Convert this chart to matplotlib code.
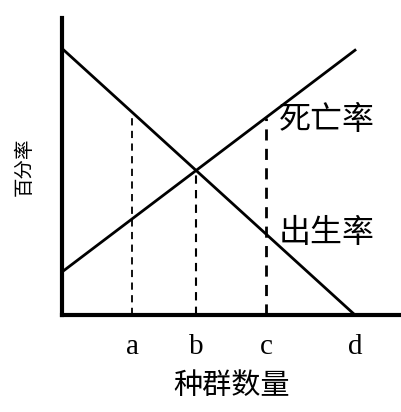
import numpy as np
import matplotlib
matplotlib.use('Agg')
import matplotlib.pyplot as plt

plt.rcParams['font.family'] = ['Noto Sans CJK SC', 'DejaVu Sans']

# population size axis (arbitrary units), lines
line_x = [0, 10]
birth_rate = [9.1, 0.0]   # falls to zero at d
death_rate = [1.47, 9.04]  # rises with population size

tick_labels = ['a', 'b', 'c', 'd']
tick_pos = [2.4, 4.58, 6.96, 10.0]

fig = plt.figure(figsize=(4.01, 4.12), dpi=100)
ax = fig.add_axes([62 / 401, 97 / 412, 339 / 401, 297 / 412])

ax.plot(line_x, birth_rate, color='black', lw=2)
ax.plot(line_x, death_rate, color='black', lw=2)

# dashed guides: a -> birth line, b -> crossing, c -> death line
a_top = np.interp(tick_pos[0], line_x, birth_rate)
b_top = np.interp(tick_pos[1], line_x, birth_rate)
c_top = np.interp(tick_pos[2], line_x, death_rate)
for xv, top, w in [(tick_pos[0], a_top, 1.3), (tick_pos[1], b_top, 1.5), (tick_pos[2], c_top, 2)]:
    ax.plot([xv, xv], [0, top], color='black', lw=w, ls=(0, (4, 3)))

ax.set_xlim(0, 11.57)
ax.set_ylim(0, 10.14)
for s in ['top', 'right']:
    ax.spines[s].set_visible(False)
ax.spines['left'].set_linewidth(3)
ax.spines['bottom'].set_linewidth(3)

ax.set_xticks(tick_pos)
ax.set_xticklabels(tick_labels, family='Liberation Serif', fontsize=21)
ax.tick_params(axis='x', length=0, pad=14)
ax.set_yticks([])

ax.set_xlabel('种群数量', fontsize=21)
ax.xaxis.set_label_coords(0.5, -0.19)
ax.set_ylabel('百分率', fontsize=14)
ax.yaxis.set_label_coords(-0.08, 0.5)

ax.text(7.4, 6.65, '死亡率', fontsize=23, va='center')
ax.text(7.4, 2.8, '出生率', fontsize=23, va='center')

fig.savefig('out.png', dpi=100)
